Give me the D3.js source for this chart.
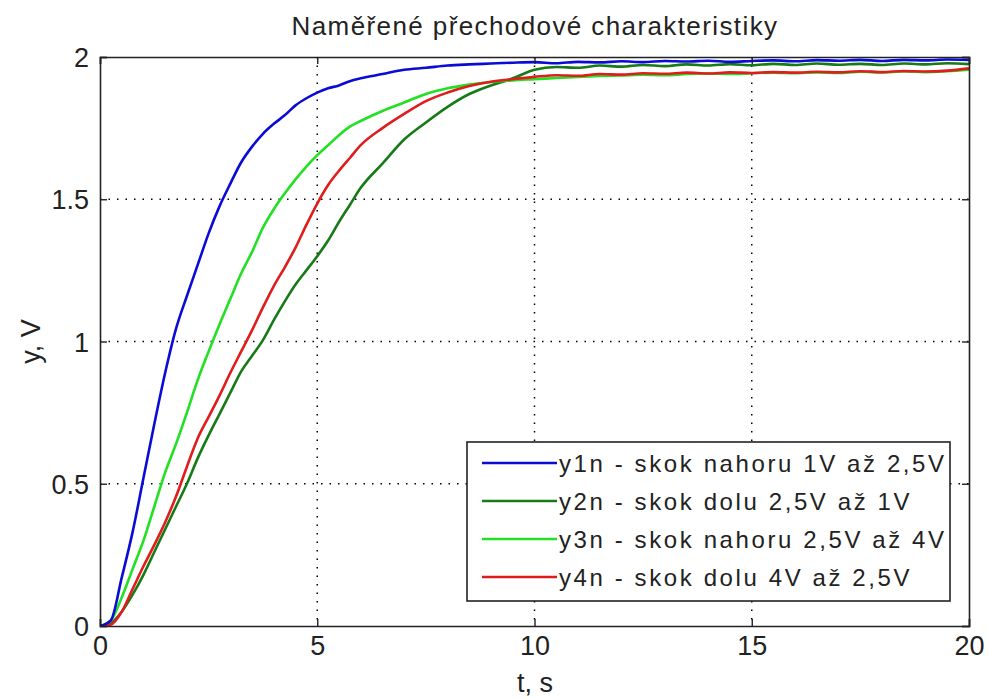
<!DOCTYPE html>
<html><head><meta charset="utf-8">
<script src="https://cdn.jsdelivr.net/npm/d3@7/dist/d3.min.js"></script>
<style>
html,body{margin:0;padding:0;background:#fff;}
svg text{font-family:"Liberation Sans",Arial,sans-serif;fill:#222;}
</style></head>
<body><svg id="c" width="989" height="699"></svg>
<script>
const title = "Naměřené přechodové charakteristiky";
const xLabel = "t, s";
const yLabel = "y, V";
const xTicks = [0, 5, 10, 15, 20];
const yTicks = [0, 0.5, 1, 1.5, 2];
const yTickLabels = ["0", "0.5", "1", "1.5", "2"];
const seriesNames = ["y1n - skok nahoru 1V až 2,5V", "y2n - skok dolu 2,5V až 1V", "y3n - skok nahoru 2,5V až 4V", "y4n - skok dolu 4V až 2,5V"];
const seriesColors = ["#0b0bd8", "#167a16", "#22e022", "#e01c1c"];
const time = [0,0.25,0.5,0.75,1,1.25,1.5,1.75,2,2.25,2.5,2.75,3,3.25,3.5,3.75,4,4.25,4.5,4.75,5,5.25,5.5,5.75,6,
  6.5,7,7.5,8,8.5,9,9.5,10,10.5,11,11.5,12,12.5,13,13.5,14,14.5,15,15.5,16,16.5,17,17.5,18,18.5,19,19.5,20];
const y1n = [0,0.02,0.17,0.33,0.52,0.71,0.89,1.045,1.16,1.27,1.38,1.475,1.555,1.63,1.685,1.73,1.765,1.795,1.83,1.855,1.875,1.89,1.9,1.915,1.925,
  1.94,1.955,1.962,1.97,1.974,1.977,1.98,1.982,1.978,1.983,1.981,1.985,1.982,1.986,1.984,1.987,1.983,1.986,1.988,1.985,1.989,1.987,1.99,1.986,1.99,1.988,1.991,1.99];
const y2n = [0,0.01,0.05,0.11,0.18,0.26,0.34,0.42,0.5,0.59,0.67,0.745,0.82,0.895,0.95,1.005,1.075,1.14,1.2,1.25,1.3,1.355,1.42,1.48,1.54,
  1.625,1.71,1.77,1.825,1.87,1.9,1.925,1.955,1.965,1.962,1.97,1.966,1.972,1.968,1.974,1.97,1.975,1.971,1.976,1.972,1.977,1.973,1.976,1.972,1.977,1.974,1.978,1.975];
const y3n = [0,0.02,0.1,0.2,0.3,0.42,0.54,0.64,0.75,0.865,0.965,1.06,1.15,1.24,1.315,1.4,1.465,1.52,1.57,1.615,1.655,1.69,1.725,1.755,1.775,
  1.81,1.84,1.87,1.89,1.903,1.912,1.918,1.922,1.926,1.93,1.933,1.935,1.938,1.936,1.94,1.942,1.94,1.943,1.945,1.943,1.946,1.944,1.948,1.946,1.949,1.947,1.95,1.955];
const y4n = [0,0.005,0.05,0.13,0.21,0.285,0.365,0.455,0.56,0.66,0.735,0.81,0.89,0.965,1.04,1.12,1.195,1.26,1.33,1.41,1.485,1.55,1.6,1.645,1.69,
  1.75,1.8,1.845,1.875,1.898,1.913,1.922,1.93,1.936,1.934,1.94,1.938,1.943,1.941,1.945,1.942,1.946,1.944,1.947,1.945,1.948,1.946,1.95,1.947,1.951,1.949,1.952,1.96];
const seriesValues = [y1n, y2n, y3n, y4n];

const svg = d3.select("#c");
const L = 100, R = 969, T = 57, B = 626;
const x = d3.scaleLinear().domain([0, 20]).range([L, R]);
const y = d3.scaleLinear().domain([0, 2]).range([B, T]);

// grid
const grid = svg.append("g");
xTicks.slice(1, -1).forEach(v => grid.append("line").attr("x1", x(v)).attr("x2", x(v)).attr("y1", T).attr("y2", B)
  .attr("stroke", "#000").attr("stroke-width", 1.5).attr("stroke-dasharray", "1.5,7"));
yTicks.slice(1, -1).forEach(v => grid.append("line").attr("y1", y(v)).attr("y2", y(v)).attr("x1", L).attr("x2", R)
  .attr("stroke", "#000").attr("stroke-width", 1.5).attr("stroke-dasharray", "1.5,7"));

// lines
svg.append("clipPath").attr("id", "cp").append("rect").attr("x", L).attr("y", T - 3).attr("width", R - L).attr("height", B - T + 3);
const line = d3.line().x((d, i) => x(time[i])).y(d => y(d)).curve(d3.curveMonotoneX);
const order = [1, 2, 3, 0];
order.forEach(k => svg.append("path").attr("d", line(seriesValues[k])).attr("fill", "none")
  .attr("stroke", seriesColors[k]).attr("stroke-width", 2.6).attr("stroke-linejoin", "round").attr("clip-path", "url(#cp)"));

// axes (inward ticks on all sides)
const tl = 7;
const axB = svg.append("g").attr("transform", `translate(0,${B})`).call(d3.axisBottom(x).tickValues(xTicks).tickSize(-tl).tickPadding(10).tickFormat(d3.format("d")));
const axT = svg.append("g").attr("transform", `translate(0,${T})`).call(d3.axisTop(x).tickValues(xTicks).tickSize(-tl).tickFormat(""));
const axL = svg.append("g").attr("transform", `translate(${L},0)`).call(d3.axisLeft(y).tickValues(yTicks).tickSize(-tl).tickPadding(11).tickFormat((d, i) => yTickLabels[i]));
const axR = svg.append("g").attr("transform", `translate(${R},0)`).call(d3.axisRight(y).tickValues(yTicks).tickSize(-tl).tickFormat(""));
[axB, axT, axL, axR].forEach(a => {
  a.select(".domain").attr("stroke", "#222").attr("stroke-width", 1.6);
  a.selectAll(".tick line").attr("stroke", "#222").attr("stroke-width", 1.4);
  a.selectAll("text").style("font-size", "27px").attr("fill", "#222");
});
axB.selectAll("text").attr("y", 10).attr("dy", "0.72em");
axL.selectAll("text").attr("dy", "0.36em");

// title and labels
svg.append("text").attr("x", 535).attr("y", 35).attr("text-anchor", "middle").style("font-size", "26px").style("letter-spacing", "1.4px").text(title);
svg.append("text").attr("x", 535).attr("y", 692).attr("text-anchor", "middle").style("font-size", "27px").text(xLabel);
svg.append("text").attr("transform", `translate(40,${(T + B) / 2}) rotate(-90)`).attr("text-anchor", "middle").style("font-size", "27px").text(yLabel);

// legend
const lg = svg.append("g");
lg.append("rect").attr("x", 467).attr("y", 442).attr("width", 483).attr("height", 159).attr("fill", "#fff").attr("stroke", "#222").attr("stroke-width", 1.6);
seriesNames.forEach((n, i) => {
  const yy = 463 + i * 38;
  lg.append("line").attr("x1", 482).attr("x2", 557).attr("y1", yy).attr("y2", yy).attr("stroke", seriesColors[i]).attr("stroke-width", 2.6);
  lg.append("text").attr("x", 559).attr("y", yy).attr("dy", "0.36em").style("font-size", "24px").style("letter-spacing", "2.6px").text(n);
});
</script></body></html>
